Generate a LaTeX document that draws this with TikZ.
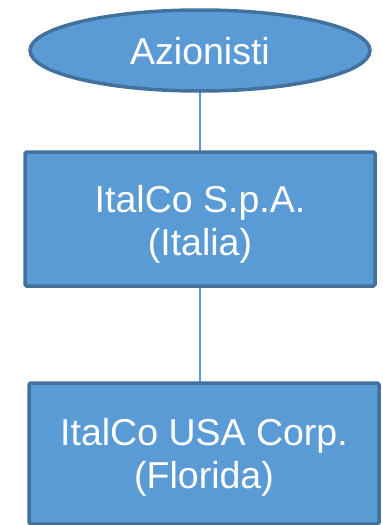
\documentclass[tikz,border=0pt]{standalone}
\usepackage{fontspec}
\setmainfont{Liberation Sans}
\usetikzlibrary{backgrounds,shapes.geometric}
\definecolor{boxfill}{HTML}{5B9BD5}
\definecolor{boxline}{HTML}{41719C}
\begin{document}
\begin{tikzpicture}[x=1pt,y=-1pt,
  entity/.style={draw=boxline,fill=boxfill,line width=3.5pt,inner sep=0pt,outer sep=0pt},
  firm/.style={entity,rectangle,rounded corners=1.5pt},
  holder/.style={entity,ellipse},
  caption/.style={text=white,align=center,inner sep=0pt,
    font=\fontsize{37.5}{43}\selectfont},
  link/.style={draw=boxfill,line width=2pt}]
  \useasboundingbox (0,0) rectangle (383,525);

  % shapes
  \node[holder,minimum width=340pt,minimum height=81pt] (soci) at (200,50.5) {};
  \node[firm,minimum width=350pt,minimum height=134pt] (italco) at (200,219) {};
  \node[firm,minimum width=350pt,minimum height=141pt] (usa) at (204,453.5) {};

  % captions
  \node[caption] (soci-t) at ([yshift=-1pt]soci.center) {Azionisti};
  \node[caption] (italco-t) at ([yshift=-5pt]italco.center) {ItalCo S.p.A.\\(Italia)};
  \node[caption] (usa-t) at ([yshift=-3.5pt]usa.center) {ItalCo USA Corp.\\(Florida)};

  % ownership links
  \begin{pgfonlayer}{background}
    \draw[link] (soci.south) -- (italco.north);
    \draw[link] (italco.south) -- (italco.south |- usa.north);
  \end{pgfonlayer}
\end{tikzpicture}
\end{document}
